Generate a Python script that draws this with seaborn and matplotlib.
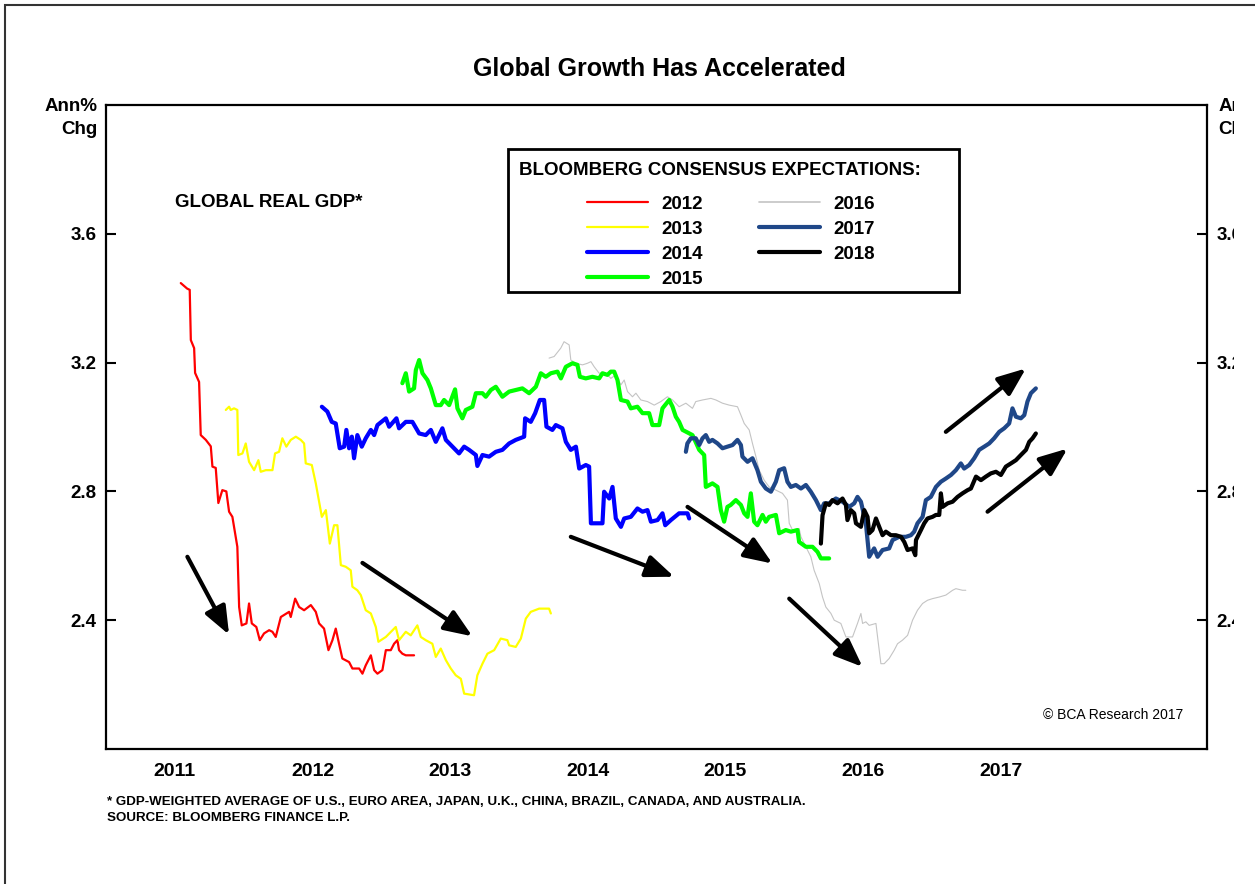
import matplotlib
matplotlib.use('Agg')
import matplotlib.pyplot as plt
import matplotlib.patches as mpatches
import pandas as pd
import seaborn as sns

# Bloomberg consensus GDP expectations (x in decimal years)
yr_2012 = [2011.543, 2011.589, 2011.608, 2011.616, 2011.640, 2011.647, 2011.676, 2011.688, 2011.725, 2011.761,
           2011.773, 2011.797, 2011.816, 2011.845, 2011.874, 2011.894, 2011.918, 2011.954, 2011.967, 2011.986,
           2012.020, 2012.039, 2012.059, 2012.092, 2012.117, 2012.148, 2012.185, 2012.209, 2012.233, 2012.270,
           2012.330, 2012.342, 2012.374, 2012.403, 2012.439, 2012.488, 2012.524, 2012.548, 2012.584, 2012.616,
           2012.645, 2012.669, 2012.693, 2012.717, 2012.766, 2012.790, 2012.839, 2012.863, 2012.887, 2012.924,
           2012.948, 2012.972, 2013.008, 2013.033, 2013.069, 2013.093, 2013.117, 2013.129, 2013.153, 2013.178,
           2013.238]
val_2012 = [3.447, 3.430, 3.426, 3.270, 3.245, 3.168, 3.140, 2.975, 2.960, 2.940,
            2.877, 2.873, 2.764, 2.804, 2.800, 2.737, 2.721, 2.628, 2.441, 2.384,
            2.390, 2.452, 2.390, 2.379, 2.338, 2.359, 2.369, 2.364, 2.348, 2.410,
            2.426, 2.410, 2.467, 2.441, 2.431, 2.447, 2.426, 2.390, 2.374, 2.307,
            2.338, 2.374, 2.327, 2.281, 2.270, 2.250, 2.250, 2.234, 2.260, 2.291,
            2.245, 2.234, 2.245, 2.307, 2.307, 2.327, 2.338, 2.307, 2.296, 2.291,
            2.291]

yr_2013 = [2011.870, 2011.894, 2011.906, 2011.930, 2011.954, 2011.961, 2011.991, 2012.015, 2012.039, 2012.076,
           2012.107, 2012.124, 2012.161, 2012.209, 2012.228, 2012.257, 2012.281, 2012.310, 2012.342, 2012.379,
           2012.415, 2012.439, 2012.451, 2012.495, 2012.524, 2012.568, 2012.597, 2012.626, 2012.657, 2012.681,
           2012.706, 2012.742, 2012.778, 2012.790, 2012.826, 2012.851, 2012.887, 2012.924, 2012.960, 2012.979,
           2013.033, 2013.105, 2013.129, 2013.178, 2013.214, 2013.262, 2013.287, 2013.323, 2013.371, 2013.396,
           2013.432, 2013.469, 2013.505, 2013.541, 2013.578, 2013.602, 2013.674, 2013.698, 2013.735, 2013.771,
           2013.820, 2013.868, 2013.916, 2013.929, 2013.977, 2014.014, 2014.050, 2014.086, 2014.147, 2014.219,
           2014.232]
val_2013 = [3.053, 3.063, 3.053, 3.058, 3.053, 2.913, 2.918, 2.949, 2.892, 2.866,
            2.897, 2.861, 2.866, 2.866, 2.918, 2.923, 2.965, 2.939, 2.960, 2.970,
            2.960, 2.949, 2.887, 2.882, 2.825, 2.721, 2.742, 2.638, 2.695, 2.695,
            2.571, 2.566, 2.555, 2.504, 2.493, 2.478, 2.431, 2.421, 2.379, 2.333,
            2.348, 2.379, 2.338, 2.364, 2.353, 2.384, 2.348, 2.338, 2.327, 2.286,
            2.312, 2.276, 2.250, 2.229, 2.218, 2.172, 2.167, 2.229, 2.265, 2.296,
            2.307, 2.343, 2.338, 2.322, 2.317, 2.343, 2.405, 2.426, 2.436, 2.436,
            2.421]

yr_2014 = [2012.568, 2012.608, 2012.640, 2012.669, 2012.698, 2012.730, 2012.746, 2012.766, 2012.786, 2012.802,
           2012.826, 2012.858, 2012.887, 2012.924, 2012.948, 2012.972, 2013.033, 2013.057, 2013.110, 2013.129,
           2013.178, 2013.226, 2013.275, 2013.323, 2013.360, 2013.396, 2013.444, 2013.469, 2013.517, 2013.565,
           2013.602, 2013.638, 2013.687, 2013.698, 2013.735, 2013.783, 2013.832, 2013.880, 2013.929, 2013.977,
           2014.038, 2014.045, 2014.086, 2014.118, 2014.152, 2014.183, 2014.200, 2014.243, 2014.268, 2014.316,
           2014.341, 2014.377, 2014.414, 2014.438, 2014.486, 2014.510, 2014.523, 2014.607, 2014.619, 2014.656,
           2014.680, 2014.704, 2014.741, 2014.765, 2014.813, 2014.861, 2014.898, 2014.934, 2014.959, 2015.007,
           2015.043, 2015.063, 2015.104, 2015.164, 2015.225, 2015.237]
val_2014 = [3.063, 3.048, 3.016, 3.011, 2.934, 2.939, 2.991, 2.934, 2.970, 2.903,
            2.975, 2.939, 2.965, 2.991, 2.975, 3.006, 3.027, 3.001, 3.027, 2.996,
            3.016, 3.016, 2.980, 2.975, 2.991, 2.954, 2.996, 2.960, 2.939, 2.918,
            2.939, 2.929, 2.913, 2.879, 2.913, 2.908, 2.923, 2.929, 2.949, 2.960,
            2.970, 3.027, 3.016, 3.043, 3.084, 3.084, 3.001, 2.991, 3.006, 2.996,
            2.954, 2.929, 2.939, 2.871, 2.882, 2.877, 2.701, 2.701, 2.799, 2.778,
            2.814, 2.716, 2.690, 2.716, 2.721, 2.747, 2.737, 2.742, 2.706, 2.711,
            2.732, 2.695, 2.711, 2.732, 2.732, 2.716]

yr_2015 = [2013.153, 2013.178, 2013.202, 2013.238, 2013.251, 2013.275, 2013.299, 2013.335, 2013.360, 2013.396,
           2013.432, 2013.456, 2013.493, 2013.536, 2013.553, 2013.589, 2013.614, 2013.662, 2013.687, 2013.735,
           2013.759, 2013.796, 2013.832, 2013.880, 2013.929, 2013.977, 2014.025, 2014.074, 2014.123, 2014.159,
           2014.195, 2014.232, 2014.280, 2014.305, 2014.341, 2014.389, 2014.425, 2014.443, 2014.486, 2014.534,
           2014.583, 2014.607, 2014.643, 2014.668, 2014.692, 2014.716, 2014.741, 2014.789, 2014.813, 2014.861,
           2014.898, 2014.946, 2014.970, 2015.019, 2015.043, 2015.092, 2015.116, 2015.140, 2015.164, 2015.189,
           2015.261, 2015.310, 2015.346, 2015.358, 2015.406, 2015.443, 2015.467, 2015.491, 2015.515, 2015.539,
           2015.576, 2015.613, 2015.637, 2015.661, 2015.685, 2015.709, 2015.733, 2015.770, 2015.794, 2015.818,
           2015.867, 2015.891, 2015.939, 2015.976, 2016.024, 2016.036, 2016.085, 2016.133, 2016.170, 2016.194,
           2016.254]
val_2015 = [3.136, 3.167, 3.110, 3.120, 3.177, 3.208, 3.167, 3.146, 3.120, 3.068,
            3.068, 3.084, 3.068, 3.117, 3.058, 3.027, 3.053, 3.063, 3.105, 3.105,
            3.094, 3.115, 3.125, 3.094, 3.110, 3.115, 3.120, 3.105, 3.125, 3.167,
            3.156, 3.167, 3.172, 3.151, 3.187, 3.198, 3.193, 3.156, 3.151, 3.156,
            3.151, 3.167, 3.162, 3.172, 3.172, 3.146, 3.084, 3.079, 3.058, 3.063,
            3.043, 3.043, 3.006, 3.006, 3.058, 3.084, 3.063, 3.032, 3.016, 2.991,
            2.975, 2.929, 2.913, 2.814, 2.825, 2.814, 2.742, 2.706, 2.752, 2.758,
            2.773, 2.758, 2.732, 2.721, 2.794, 2.706, 2.695, 2.727, 2.706, 2.721,
            2.727, 2.670, 2.680, 2.675, 2.680, 2.643, 2.628, 2.628, 2.612, 2.592,
            2.592]

yr_2016 = [2014.219, 2014.256, 2014.304, 2014.328, 2014.365, 2014.377, 2014.414, 2014.462, 2014.498, 2014.523,
           2014.547, 2014.583, 2014.632, 2014.668, 2014.704, 2014.741, 2014.765, 2014.789, 2014.825, 2014.850,
           2014.886, 2014.934, 2014.983, 2015.031, 2015.079, 2015.116, 2015.164, 2015.213, 2015.261, 2015.285,
           2015.334, 2015.395, 2015.431, 2015.479, 2015.528, 2015.588, 2015.613, 2015.637, 2015.673, 2015.697,
           2015.722, 2015.746, 2015.782, 2015.818, 2015.867, 2015.915, 2015.951, 2015.964, 2015.988, 2016.036,
           2016.049, 2016.085, 2016.121, 2016.145, 2016.182, 2016.206, 2016.230, 2016.267, 2016.291, 2016.339,
           2016.376, 2016.424, 2016.460, 2016.485, 2016.497, 2016.521, 2016.545, 2016.594, 2016.606, 2016.630,
           2016.654, 2016.690, 2016.727, 2016.751, 2016.787, 2016.824, 2016.860, 2016.896, 2016.933, 2016.969,
           2017.005, 2017.054, 2017.102, 2017.151, 2017.175, 2017.223, 2017.247]
val_2016 = [3.214, 3.219, 3.245, 3.265, 3.255, 3.208, 3.198, 3.193, 3.198, 3.203,
            3.187, 3.167, 3.167, 3.151, 3.162, 3.131, 3.146, 3.110, 3.094, 3.105,
            3.084, 3.079, 3.068, 3.079, 3.094, 3.084, 3.063, 3.074, 3.058, 3.079,
            3.084, 3.089, 3.084, 3.074, 3.068, 3.063, 3.037, 3.011, 2.991, 2.949,
            2.908, 2.866, 2.835, 2.814, 2.804, 2.794, 2.773, 2.701, 2.680, 2.685,
            2.659, 2.628, 2.597, 2.555, 2.514, 2.472, 2.441, 2.421, 2.400, 2.390,
            2.348, 2.348, 2.390, 2.421, 2.390, 2.395, 2.384, 2.390, 2.348, 2.265,
            2.265, 2.281, 2.307, 2.327, 2.338, 2.353, 2.400, 2.431, 2.452, 2.462,
            2.467, 2.472, 2.478, 2.493, 2.498, 2.493, 2.493]

yr_2017 = [2015.213, 2015.224, 2015.249, 2015.285, 2015.310, 2015.334, 2015.358, 2015.382, 2015.406, 2015.443,
           2015.479, 2015.515, 2015.552, 2015.588, 2015.613, 2015.624, 2015.661, 2015.697, 2015.733, 2015.758,
           2015.794, 2015.831, 2015.867, 2015.891, 2015.927, 2015.951, 2015.976, 2016.012, 2016.049, 2016.085,
           2016.121, 2016.158, 2016.194, 2016.218, 2016.254, 2016.303, 2016.351, 2016.400, 2016.436, 2016.460,
           2016.485, 2016.521, 2016.545, 2016.581, 2016.606, 2016.642, 2016.690, 2016.715, 2016.763, 2016.812,
           2016.848, 2016.872, 2016.896, 2016.933, 2016.957, 2016.993, 2017.030, 2017.066, 2017.102, 2017.139,
           2017.175, 2017.211, 2017.235, 2017.272, 2017.308, 2017.344, 2017.381, 2017.417, 2017.453, 2017.490,
           2017.526, 2017.562, 2017.586, 2017.611, 2017.647, 2017.672, 2017.695, 2017.720, 2017.756]
val_2017 = [2.923, 2.949, 2.965, 2.965, 2.944, 2.965, 2.975, 2.954, 2.960, 2.949,
            2.934, 2.939, 2.944, 2.960, 2.944, 2.908, 2.892, 2.903, 2.866, 2.830,
            2.809, 2.799, 2.830, 2.866, 2.872, 2.830, 2.814, 2.820, 2.809, 2.820,
            2.799, 2.773, 2.742, 2.763, 2.763, 2.778, 2.768, 2.752, 2.763, 2.783,
            2.768, 2.701, 2.597, 2.623, 2.597, 2.618, 2.623, 2.649, 2.659, 2.659,
            2.664, 2.675, 2.701, 2.721, 2.773, 2.783, 2.814, 2.830, 2.840, 2.851,
            2.866, 2.887, 2.871, 2.882, 2.903, 2.929, 2.939, 2.949, 2.965, 2.985,
            2.996, 3.011, 3.058, 3.032, 3.027, 3.037, 3.079, 3.105, 3.120]

yr_2018 = [2016.194, 2016.206, 2016.230, 2016.254, 2016.278, 2016.315, 2016.351, 2016.376, 2016.387, 2016.412,
           2016.436, 2016.449, 2016.485, 2016.509, 2016.533, 2016.545, 2016.569, 2016.594, 2016.618, 2016.642,
           2016.666, 2016.703, 2016.739, 2016.776, 2016.800, 2016.824, 2016.860, 2016.880, 2016.885, 2016.921,
           2016.945, 2016.969, 2017.005, 2017.030, 2017.054, 2017.066, 2017.078, 2017.115, 2017.151, 2017.187,
           2017.223, 2017.260, 2017.284, 2017.321, 2017.357, 2017.393, 2017.429, 2017.466, 2017.502, 2017.538,
           2017.575, 2017.611, 2017.647, 2017.684, 2017.708, 2017.732, 2017.756]
val_2018 = [2.638, 2.726, 2.763, 2.758, 2.773, 2.763, 2.778, 2.758, 2.711, 2.742,
            2.732, 2.701, 2.690, 2.742, 2.721, 2.670, 2.680, 2.716, 2.690, 2.664,
            2.675, 2.664, 2.664, 2.659, 2.643, 2.618, 2.623, 2.602, 2.649, 2.680,
            2.701, 2.716, 2.721, 2.727, 2.727, 2.794, 2.752, 2.763, 2.768, 2.783,
            2.794, 2.804, 2.809, 2.846, 2.835, 2.846, 2.856, 2.861, 2.851, 2.877,
            2.887, 2.897, 2.913, 2.929, 2.954, 2.965, 2.980]

series = [
    ('2012', yr_2012, val_2012, '#ff0000', 1.6),
    ('2013', yr_2013, val_2013, '#ffff00', 1.6),
    ('2014', yr_2014, val_2014, '#0000ff', 3.0),
    ('2015', yr_2015, val_2015, '#00ff00', 3.0),
    ('2016', yr_2016, val_2016, '#c4c4c4', 0.8),
    ('2017', yr_2017, val_2017, '#1f4788', 3.0),
    ('2018', yr_2018, val_2018, '#000000', 3.0),
]

# trend arrows: (tail year, tail value, head year, head value)
arrows = [
    (2011.591, 2.597, 2011.894, 2.355),
    (2012.863, 2.578, 2013.662, 2.350),
    (2014.377, 2.659, 2015.128, 2.535),
    (2015.225, 2.752, 2015.842, 2.576),
    (2015.964, 2.467, 2016.497, 2.255),
    (2017.102, 2.985, 2017.684, 3.182),
    (2017.405, 2.737, 2017.986, 2.933),
]

year_ticks = [2012, 2013, 2014, 2015, 2016, 2017, 2018]
year_labels = ['2011', '2012', '2013', '2014', '2015', '2016', '2017']
y_ticks = [2.4, 2.8, 3.2, 3.6]

sns.set_theme(style='white')
plt.rcParams['font.family'] = ['Liberation Sans', 'DejaVu Sans']
plt.rcParams['text.color'] = 'black'
plt.rcParams['xtick.color'] = 'black'
plt.rcParams['ytick.color'] = 'black'
plt.rcParams['axes.labelcolor'] = 'black'

fig = plt.figure(figsize=(12.55, 8.84), dpi=100)
ax = fig.add_axes([0.0845, 0.1527, 0.8773, 0.7285])

for name, xs, ys, color, lw in series:
    df = pd.DataFrame({'year': xs, 'value': ys})
    sns.lineplot(data=df, x='year', y='value', ax=ax, color=color, linewidth=lw,
                 estimator=None, errorbar=None, label=name,
                 zorder=1 if name == '2016' else 2)

for x0, y0, x1, y1 in arrows:
    ax.annotate('', xy=(x1, y1), xytext=(x0, y0),
                arrowprops=dict(arrowstyle='-|>,head_length=0.85,head_width=0.34',
                                mutation_scale=20, lw=3, color='black',
                                shrinkA=0, shrinkB=0))

ax.set_xlim(2011, 2019)
ax.set_ylim(2.0, 4.0)
ax.set_xlabel('')
ax.set_ylabel('')

ax.set_xticks(year_ticks)
ax.set_xticklabels([])
ax.set_xticks([y - 0.5 for y in year_ticks], minor=True)
ax.set_xticklabels(year_labels, minor=True, fontsize=14, fontweight='bold')
ax.tick_params(axis='x', which='major', direction='in', length=9, width=1.5, color='black')
ax.tick_params(axis='x', which='minor', length=0, pad=10)

ax.set_yticks(y_ticks)
ax.set_yticklabels([f'{v:.1f}' for v in y_ticks], fontsize=13.5, fontweight='bold')
ax.tick_params(axis='y', which='major', direction='in', length=7, width=1.5, color='black',
               left=True, right=True, labelleft=True, labelright=True, pad=7)

for sp in ax.spines.values():
    sp.set_color('black')
    sp.set_linewidth(1.6)

# legend: entries, separate frame and heading
leg = ax.legend(loc='upper left', bbox_to_anchor=(0.4369, 0.859), ncol=2, frameon=False,
                borderpad=0, borderaxespad=0, handlelength=3.25, handletextpad=0.7,
                columnspacing=3.0, labelspacing=0.42,
                prop={'size': 13.5, 'weight': 'bold'})
for line in leg.get_lines():
    line.set_linewidth(max(line.get_linewidth(), 1.2))
ax.add_patch(mpatches.Rectangle((0.365, 0.7096), 0.41, 0.2224, transform=ax.transAxes,
                                fill=False, edgecolor='black', linewidth=2, zorder=5))
ax.text(0.375, 0.899, 'BLOOMBERG CONSENSUS EXPECTATIONS:', transform=ax.transAxes,
        ha='left', va='center', fontsize=13.5, fontweight='bold')

ax.text(0.0627, 0.849, 'GLOBAL REAL GDP*', transform=ax.transAxes,
        ha='left', va='center', fontsize=13.5, fontweight='bold')
ax.text(0.978, 0.0528, '\u00a9 BCA Research 2017', transform=ax.transAxes,
        ha='right', va='center', fontsize=10)

ax.text(-0.0075, 1.011, 'Ann%\nChg', transform=ax.transAxes, ha='right', va='top',
        fontsize=13.5, fontweight='bold', linespacing=1.45)
ax.text(1.0105, 1.011, 'Ann%\nChg', transform=ax.transAxes, ha='left', va='top',
        fontsize=13.5, fontweight='bold', linespacing=1.45)

fig.text(0.5255, 0.922, 'Global Growth Has Accelerated', ha='center', va='center',
         fontsize=18, fontweight='bold')
fig.text(0.0853, 0.0927, '* GDP-WEIGHTED AVERAGE OF U.S., EURO AREA, JAPAN, U.K., CHINA, BRAZIL, CANADA, AND AUSTRALIA.',
         ha='left', va='center', fontsize=9.6, fontweight='bold')
fig.text(0.0853, 0.0746, 'SOURCE: BLOOMBERG FINANCE L.P.', ha='left', va='center',
         fontsize=9.6, fontweight='bold')

# outer frame, only its top and left edges fall inside the picture
fig.patches.append(mpatches.Rectangle((0.004, -0.2), 1.5, 1.1943, transform=fig.transFigure,
                                      fill=False, edgecolor='#333333', linewidth=1.5))
# the source picture is cropped just past the right axis labels
fig.add_artist(mpatches.Rectangle((1234 / 1255, 0.0), 0.05, 0.988, transform=fig.transFigure,
                                  facecolor='white', edgecolor='none', zorder=10))

fig.savefig('out.png', dpi=100)
